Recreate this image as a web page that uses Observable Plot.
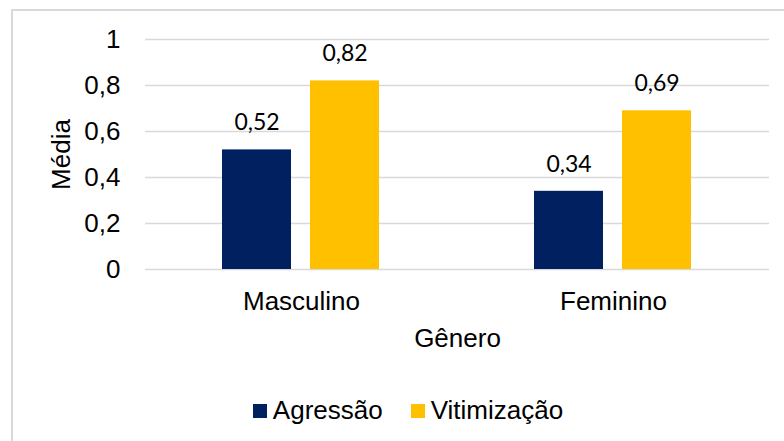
<!DOCTYPE html>
<html>
<head>
<meta charset="utf-8">
<script src="https://cdn.jsdelivr.net/npm/d3@7"></script>
<script src="https://cdn.jsdelivr.net/npm/@observablehq/plot@0.6"></script>
<style>
  html, body { margin: 0; padding: 0; background: #fff; width: 784px; height: 441px; overflow: hidden; }
  #frame { position: absolute; left: 11px; top: 9px; width: 800px; height: 460px; border: 2px solid #d9d9d9; box-sizing: border-box; }
  #chart { position: absolute; left: 0; top: 0; }
  #legend { position: absolute; left: 0; top: 394px; width: 816px; }
  .lg-swatches { justify-content: center !important; font-family: "Liberation Sans", Arial, sans-serif !important; font-size: 26px !important; color: #000; }
  .lg-swatch { margin-right: 28px !important; }
  .lg-swatch:last-child { margin-right: 0 !important; }
  .lg-swatch > svg { margin-right: 6px !important; }
</style>
</head>
<body>
<div id="frame"></div>
<div id="chart"></div>
<div id="legend"></div>
<script>
const genders = ["Masculino", "Feminino"];
const series = ["Agressão", "Vitimização"];
const agressao = [0.52, 0.34];
const vitimizacao = [0.82, 0.69];
const yTicks = [0, 0.2, 0.4, 0.6, 0.8, 1];
const colors = ["#002060", "#FFC000"];

const data = [];
genders.forEach((g, i) => {
  data.push({genero: g, serie: series[0], valor: agressao[i]});
  data.push({genero: g, serie: series[1], valor: vitimizacao[i]});
});
const fmt = d => String(d).replace(".", ",");

const chart = Plot.plot({
  width: 784,
  height: 380,
  marginLeft: 144,
  marginRight: 15,
  marginTop: 39,
  marginBottom: 111,
  style: {fontFamily: "'Liberation Sans', Arial, sans-serif", color: "#000", background: "transparent"},
  fx: {domain: genders, padding: 0},
  x: {domain: series, paddingInner: 0.2135, paddingOuter: 0.862, axis: null},
  y: {domain: [0, 1]},
  color: {domain: series, range: colors},
  marks: [
    Plot.gridY(yTicks, {stroke: "#d9d9d9", strokeOpacity: 1, strokeWidth: 1.5}),
    Plot.axisY(yTicks, {tickSize: 0, tickPadding: 25, tickFormat: fmt, fontSize: 26, label: "Média", labelAnchor: "center", labelArrow: "none", labelOffset: 94}),
    Plot.axisFx({anchor: "bottom", tickSize: 0, tickPadding: 22, fontSize: 26, label: "Gênero", labelAnchor: "center", labelArrow: "none", labelOffset: 77}),
    Plot.barY(data, {fx: "genero", x: "serie", y: "valor", fill: "serie"}),
    Plot.text(data, {fx: "genero", x: "serie", y: "valor", text: d => fmt(d.valor), dy: -27, fontSize: 23, fontFamily: "Lato, 'Open Sans', sans-serif", fill: "#000"})
  ]
});
d3.select(chart).selectAll("[aria-label='y-axis label'] text, [aria-label='fx-axis label'] text").attr("font-size", 26);
document.getElementById("chart").appendChild(chart);

const legend = Plot.legend({
  color: {domain: series, range: colors},
  swatchSize: 14,
  className: "lg"
});
document.getElementById("legend").appendChild(legend);
</script>
</body>
</html>
